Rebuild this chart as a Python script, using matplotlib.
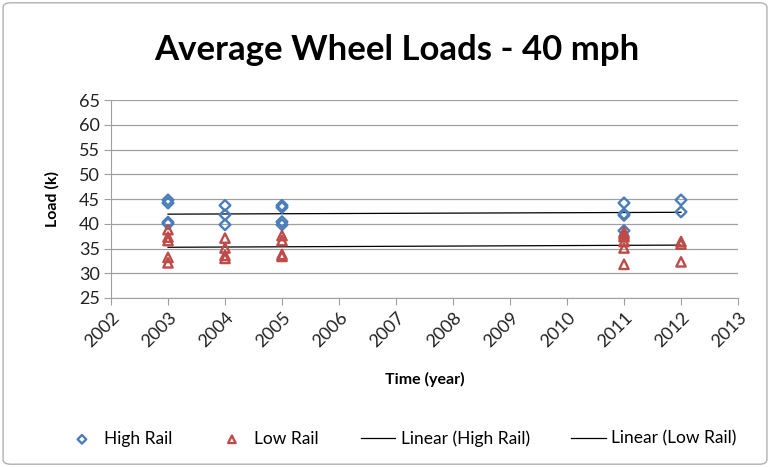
import numpy as np
import matplotlib.pyplot as plt
from matplotlib.patches import FancyBboxPatch

plt.rcParams['font.family'] = ['Lato', 'DejaVu Sans']

# data
high_years = [2003, 2003, 2003, 2003, 2004, 2004, 2004, 2005, 2005, 2005, 2005,
              2011, 2011, 2011, 2011, 2012, 2012]
high_loads = [44.8, 44.2, 40.3, 40.0, 43.7, 41.8, 39.8, 43.7, 43.3, 40.4, 39.8,
              44.2, 42.0, 41.7, 38.6, 44.8, 42.4]
low_years = [2003, 2003, 2003, 2003, 2003, 2004, 2004, 2004, 2004, 2005, 2005, 2005, 2005,
             2011, 2011, 2011, 2011, 2011, 2011, 2012, 2012, 2012]
low_loads = [38.8, 37.3, 36.6, 33.2, 32.1, 37.1, 35.1, 33.6, 33.0, 37.6, 36.6, 33.8, 33.4,
             38.3, 37.9, 37.4, 36.4, 35.1, 31.8, 36.4, 35.9, 32.3]
year_ticks = list(range(2002, 2014))
load_ticks = list(range(25, 70, 5))

blue = '#4A7EBB'
red = '#BE4B48'

fig = plt.figure(figsize=(7.7, 4.67), dpi=100)
ax = fig.add_axes([111 / 770, 1 - 298 / 467, (738 - 111) / 770, (298 - 100) / 467])

ax.scatter(high_years, high_loads, marker='D', s=30, facecolors='none',
           edgecolors=blue, linewidths=1.7, label='High Rail', zorder=3)
ax.scatter(low_years, low_loads, marker='^', s=45, facecolors='none',
           edgecolors=red, linewidths=1.7, label='Low Rail', zorder=3)

# linear trend lines
xs = np.array([min(high_years), max(high_years)])
ph = np.polyfit(high_years, high_loads, 1)
pl = np.polyfit(low_years, low_loads, 1)
ax.plot(xs, np.polyval(ph, xs), color='black', lw=0.9, label='Linear (High Rail)', zorder=2)
ax.plot(xs, np.polyval(pl, xs), color='black', lw=0.9, label='Linear (Low Rail)', zorder=2)

ax.set_xlim(2002, 2013)
ax.set_ylim(25, 65)
ax.set_xticks(year_ticks)
ax.set_xticklabels([str(y) for y in year_ticks], rotation=45, ha='right',
                   rotation_mode='anchor', fontsize=13, color='#222222')
ax.set_yticks(load_ticks)
ax.set_yticklabels([str(v) for v in load_ticks], fontsize=13, color='#222222')
ax.yaxis.grid(True, color='#A0A0A0', lw=0.9)
ax.set_axisbelow(True)
for s in ['top', 'right']:
    ax.spines[s].set_visible(False)
ax.spines['left'].set_color('#A0A0A0')
ax.spines['bottom'].set_color('#A0A0A0')
ax.tick_params(axis='y', length=5, color='#A0A0A0', pad=3)
ax.tick_params(axis='x', length=5, color='#A0A0A0', pad=3)

ax.set_ylabel('Load (k)', fontsize=11.5, fontweight='bold', labelpad=14)
ax.set_xlabel('Time (year)', fontsize=11.5, fontweight='bold', labelpad=16)
fig.text(0.515, 1 - 50 / 467, 'Average Wheel Loads - 40 mph', ha='center', va='center',
         fontsize=25, fontweight='bold')

ax.legend(loc='center', bbox_to_anchor=(0.5 * (770 / 627) - 111 / 627 + 0.025, -0.71),
          ncol=4, frameon=False, fontsize=12.5, handlelength=2.0, columnspacing=2.4,
          handletextpad=0.3, markerscale=0.8)

# outer chart border
fig.patches.append(FancyBboxPatch((0.004, 0.006), 0.992, 0.988, boxstyle='round,pad=0,rounding_size=0.01',
                                  transform=fig.transFigure, fill=False, edgecolor='#B0B0B0', lw=1))

fig.savefig('out.png', dpi=100)
